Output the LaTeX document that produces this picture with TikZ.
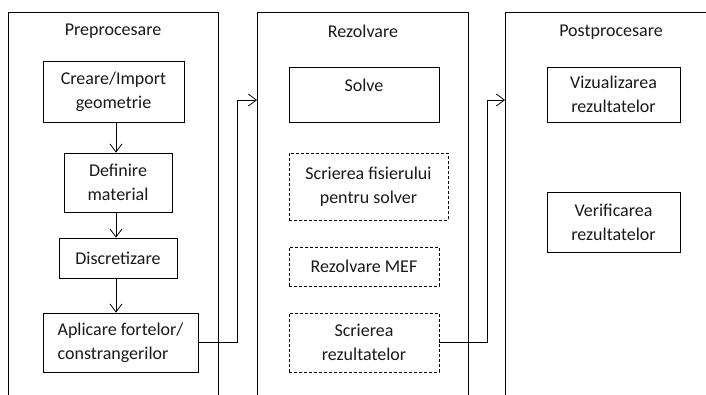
\documentclass[tikz,border=0pt]{standalone}
\usepackage{fontspec}
\setmainfont{Carlito}
\usetikzlibrary{arrows.meta}
\begin{document}
\begin{tikzpicture}[x=1pt,y=-1pt,
  every node/.style={font=\fontsize{18}{24}\selectfont, text=black!90},
  frame/.style={draw, line width=0.8pt, inner sep=0pt, anchor=north west},
  box/.style={draw, line width=0.8pt, inner sep=0pt, align=center},
  dbox/.style={box, dash pattern=on 3pt off 2pt},
  title/.style={inner sep=0pt},
  conn/.style={line width=0.8pt},
  arr/.style={conn, -{Straight Barb[length=8pt,width=12pt,line width=0.8pt]}}]
\useasboundingbox (0,0) rectangle (706,394);
\clip (0,0) rectangle (706,394);
% columns
\node[frame, minimum width=210pt, minimum height=420pt] (col1) at (8,12) {};
\node[frame, minimum width=211pt, minimum height=420pt] (col2) at (257,12) {};
\node[frame, minimum width=230pt, minimum height=420pt] (col3) at (505,12) {};
\node[title] (t1) at (113,31) {Preprocesare};
\node[title] (t2) at (363,31) {Rezolvare};
\node[title] (t3) at (611,32) {Postprocesare};
% column 1
\node[box, minimum width=141pt, minimum height=61pt] (creare) at (113.5,91.5) {Creare/Import\\geometrie};
\node[box, minimum width=108pt, minimum height=59pt] (definire) at (118,182.5) {Definire\\material};
\node[box, minimum width=118pt, minimum height=40pt] (discret) at (118,258) {Discretizare};
\node[box, minimum width=155pt, minimum height=59pt, align=left] (aplicare) at (120.5,342.5) {Aplicare fortelor/\\constrangerilor};
% column 2
\node[box, minimum width=150pt, minimum height=55pt] (solve) at (364,94.5) {};
\node[title] (solvet) at (364,85) {Solve};
\node[dbox, minimum width=159pt, minimum height=67pt] (scrfis) at (368.5,186.5) {Scrierea fisierului\\pentru solver};
\node[dbox, minimum width=150pt, minimum height=39pt] (mef) at (364,266.5) {Rezolvare MEF};
\node[dbox, minimum width=150pt, minimum height=59pt] (scrrez) at (364,342.5) {Scrierea\\rezultatelor};
% column 3
\node[box, minimum width=133pt, minimum height=55pt] (viz) at (613.5,94.5) {Vizualizarea\\rezultatelor};
\node[box, minimum width=133pt, minimum height=60pt] (verif) at (613.5,222) {Verificarea\\rezultatelor};
% connectors
\coordinate (ax) at (116,0);
\draw[arr] (creare.south -| ax) -- (definire.north -| ax);
\draw[arr] (definire.south -| ax) -- (discret.north -| ax);
\draw[arr] (discret.south -| ax) -- (aplicare.north -| ax);
\coordinate (b1) at (237,100);
\coordinate (in2) at (257,100);
\draw[arr] (aplicare.east) -- (aplicare.east -| b1) |- (in2);
\coordinate (b2) at (487,100);
\coordinate (in3) at (505,100);
\draw[arr] (scrrez.east) -- (scrrez.east -| b2) |- (in3);
\end{tikzpicture}
\end{document}
